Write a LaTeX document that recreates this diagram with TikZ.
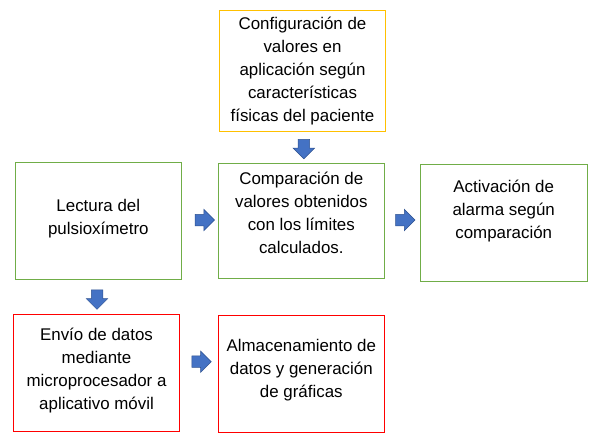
\documentclass[tikz,border=0pt]{standalone}
\usepackage{fontspec}
\setmainfont{Liberation Sans}
\usetikzlibrary{shapes.arrows}
\definecolor{boxgreen}{HTML}{70AD47}
\definecolor{boxred}{HTML}{FF0000}
\definecolor{boxgold}{HTML}{FFC000}
\definecolor{arrowfill}{HTML}{4472C4}
\definecolor{arrowline}{HTML}{2F528F}
\begin{document}
\begin{tikzpicture}[x=1pt, y=-1pt,
    box/.style={draw, line width=0.8pt, align=center, inner sep=0pt,
        font=\fontsize{16.9}{23}\selectfont},
    blockarrow/.style={single arrow, fill=arrowfill, draw=arrowline, line width=0.5pt,
        minimum height=19.4pt, minimum width=21pt, single arrow head extend=5pt,
        inner xsep=0pt, inner ysep=5.5pt}]
    \useasboundingbox (0,0) rectangle (593,445);

    % Configuration box
    \node[box, draw=boxgold, minimum width=166.4pt, minimum height=121.7pt] (config) at (302.5,70.8)
        {Configuración de\\valores en\\aplicación según\\características\\físicas del paciente};

    % Middle row
    \node[box, draw=boxgreen, minimum width=166.7pt, minimum height=117pt, text depth=7.6pt] (lectura) at (98.3,220.8)
        {Lectura del\\pulsioxímetro};
    \node[box, draw=boxgreen, minimum width=166pt, minimum height=115pt, text depth=16pt] (comparacion) at (301.3,220.8)
        {Comparación de\\valores obtenidos\\con los límites\\calculados.};
    \node[box, draw=boxgreen, minimum width=167.3pt, minimum height=117.4pt, text depth=27pt] (alarma) at (503.7,223)
        {Activación de\\alarma según\\comparación};

    % Bottom row
    \node[box, draw=boxred, minimum width=166.4pt, minimum height=116.7pt, text depth=7.6pt] (envio) at (96.5,372.7)
        {Envío de datos\\mediante\\microprocesador a\\aplicativo móvil};
    \node[box, draw=boxred, minimum width=166pt, minimum height=117.3pt, text depth=11.6pt] (almacen) at (301.3,373.7)
        {Almacenamiento de\\datos y generación\\de gráficas};

    % Block arrows
    \node[blockarrow, rotate=-90] (flecha1) at (303.8,146.3) {};
    \node[blockarrow] (flecha2) at (202,220) {};
    \node[blockarrow] (flecha3) at (402.5,220) {};
    \node[blockarrow, rotate=-90] (flecha4) at (97,296.8) {};
    \node[blockarrow] (flecha5) at (198.7,361.7) {};
\end{tikzpicture}
\end{document}
